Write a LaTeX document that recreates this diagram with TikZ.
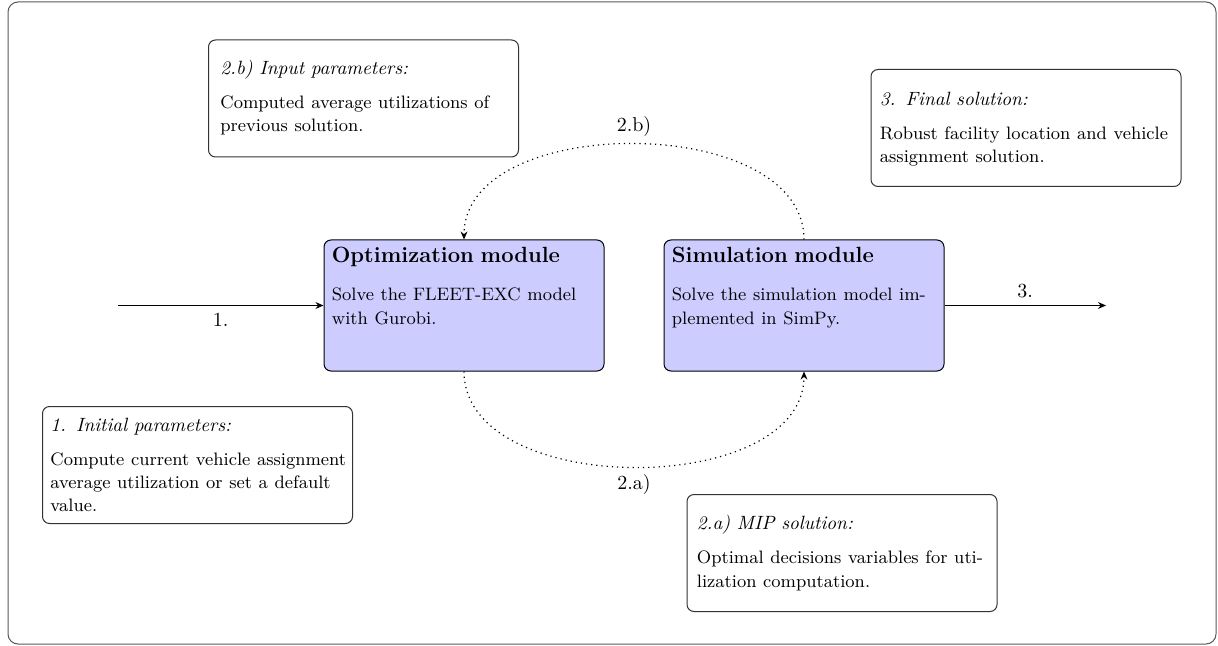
\documentclass[tikz,border=0pt]{standalone}
\usetikzlibrary{arrows.meta,calc}
\newcommand\mybody{\fontsize{9}{11.6}\selectfont}
\newcommand\myhead{\fontsize{9.6}{12}\selectfont\itshape}
\newcommand\mytitle{\fontsize{11}{13}\selectfont\bfseries}
\newcommand\mylab{\fontsize{10}{12}\selectfont}
\begin{document}
\begin{tikzpicture}[x=0.5pt,y=-0.5pt,
  framebox/.style={draw=black!65, line width=0.5pt, rounded corners=5pt},
  infobox/.style={draw=black!80, line width=0.5pt, rounded corners=3.5pt, minimum width=155pt, minimum height=58.5pt, inner sep=0pt},
  infotext/.style={inner sep=0pt, text width=150pt, align=left, anchor=west},
  module/.style={draw=black, line width=0.5pt, fill=blue!20, rounded corners=3.5pt, minimum width=140pt, minimum height=65.5pt, inner sep=0pt},
  modtext/.style={inner sep=0pt, text width=132pt, align=left, anchor=north west},
  flow/.style={semithick, -{Stealth[length=4pt,width=3.4pt]}},
  loop/.style={semithick, dotted, -{Stealth[length=4pt,width=3.4pt]}},
  lab/.style={font=\mylab}
]
\useasboundingbox (0,0) rectangle (1218,646);
\draw[framebox] (8,2) rectangle (1216,644);

% modules
\node[module] (opt) at (464,305.5) {};
\node[modtext] (opttext) at ($(opt.north west)+(8,7.5)$)
  {{\mytitle Optimization module\par}\vspace{7.5pt}{\mybody Solve the FLEET-EXC model with Gurobi.\par}};
\node[module] (sim) at (804,305.5) {};
\node[modtext] (simtext) at ($(sim.north west)+(8,7.5)$)
  {{\mytitle Simulation module\par}\vspace{7.5pt}{\mybody Solve the simulation model implemented in SimPy.\par}};

% info boxes
\node[infobox] (b2b) at (363.5,98.5) {};
\node[infotext] (b2btext) at ($(b2b.west)+(12,-1)$)
  {{\myhead 2.b) Input parameters:\par}\vspace{5.5pt}{\mybody Computed average utilizations of previous solution.\par}};
\node[infobox] (b3) at (1026,128) {};
\node[infotext] (b3text) at ($(b3.west)+(9,1)$)
  {{\myhead 3. Final solution:\par}\vspace{5.5pt}{\mybody Robust facility location and vehicle assignment solution.\par}};
\node[infobox] (b1) at (197.5,465) {};
\node[infotext] (b1text) at ($(b1.west)+(8,0)$)
  {{\myhead 1. Initial parameters:\par}\vspace{5.5pt}{\mybody Compute current vehicle assignment average utilization or set a default value.\par}};
\node[infobox] (b2a) at (842,553) {};
\node[infotext] (b2atext) at ($(b2a.west)+(10,0)$)
  {{\myhead 2.a) MIP solution:\par}\vspace{5.5pt}{\mybody Optimal decisions variables for utilization computation.\par}};

% flows
\coordinate (in) at (118,305.5);
\coordinate (out) at (1106,305.5);
\draw[flow] (in) -- node[lab, below] {1.} (opt.west);
\draw[flow] (sim.east) -- node[lab, above] {3.} (out);
\draw[loop] (sim.north) to[out=90,in=90,looseness=0.96] node[lab, above] {2.b)} (opt.north);
\draw[loop] (opt.south) to[out=-90,in=-90,looseness=0.96] node[lab, below] {2.a)} (sim.south);
\end{tikzpicture}
\end{document}
